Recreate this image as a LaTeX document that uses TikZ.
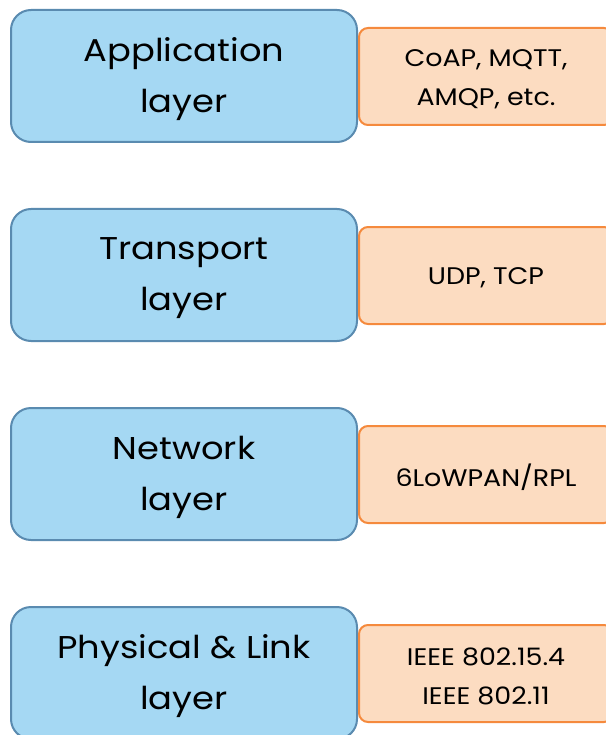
\documentclass[tikz,border=0pt]{standalone}
\usepackage{fontspec}
\setmainfont{Poppins}[FakeStretch=1.12]
\definecolor{layerfill}{HTML}{A5D8F3}
\definecolor{layerline}{HTML}{5A8BB0}
\definecolor{protofill}{HTML}{FCDCC1}
\definecolor{protoline}{HTML}{F58A3D}
\begin{document}
\begin{tikzpicture}[x=1pt,y=-1pt,
  layerbox/.style={draw=layerline, fill=layerfill, line width=2pt,
    rounded corners=20pt, minimum width=346pt, minimum height=132pt,
    align=center, font=\fontsize{31.5}{51}\selectfont, inner sep=0pt},
  protobox/.style={draw=protoline, fill=protofill, line width=2pt,
    rounded corners=9pt, minimum width=254pt, minimum height=97pt,
    align=center, font=\fontsize{24}{39}\selectfont, inner sep=0pt}]
\useasboundingbox (0,0) rectangle (605,735);
\foreach \name/\layer/\proto [count=\i from 0] in {
    app/{Application\\layer}/{CoAP, MQTT,\\AMQP, etc.},
    trans/{Transport\\layer}/{UDP, TCP},
    net/{Network\\layer}/{6LoWPAN/RPL},
    phy/{Physical \& Link\\layer}/{IEEE 802.15.4\\IEEE 802.11}} {
  \node[layerbox] (\name) at (184, 76+199*\i) {};
  \node[align=center, font=\fontsize{31.5}{51}\selectfont, inner sep=0pt]
    (\name-t) at (184, 79+199*\i) {\layer};
  \node[protobox] (\name-p) at (486, 76.5+199*\i) {};
  \node[align=center, font=\fontsize{24}{39}\selectfont, inner sep=0pt]
    (\name-pt) at (486, 79+199*\i) {\proto};
}
\end{tikzpicture}
\end{document}
